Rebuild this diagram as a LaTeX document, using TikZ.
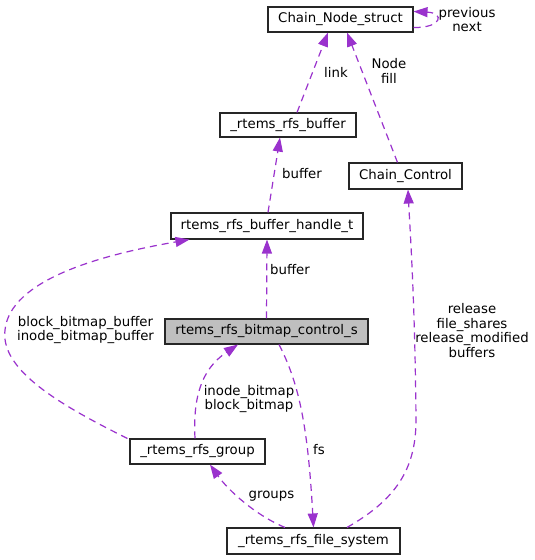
\documentclass[tikz,border=0pt]{standalone}
\usepackage{fontspec}
\setmainfont{DejaVu Sans}
\usetikzlibrary{arrows.meta,calc}
\definecolor{edgepurple}{RGB}{154,50,205}
\definecolor{boxgray}{RGB}{191,191,191}
\begin{document}
\begin{tikzpicture}[x=1pt,y=-1pt,
  box/.style={draw=black!85, line width=1.1pt, fill=white, inner sep=0pt, font=\fontsize{13.3}{15}\selectfont},
  lbl/.style={inner sep=0pt, align=center, font=\fontsize{13.3}{14.5}\selectfont},
  edge/.style={draw=edgepurple, line width=1.2pt, dash pattern=on 7pt off 5pt, -{Triangle[length=14pt,width=10pt,fill=edgepurple]}}
]
\path[use as bounding box, fill=white] (0,0) rectangle (535,560);

\node[box, minimum width=145pt, minimum height=25pt] (cns) at (340.5,19.5) {Chain\_Node\_struct};
\node[box, minimum width=136pt, minimum height=24pt] (rb) at (288,125) {\_rtems\_rfs\_buffer};
\node[box, minimum width=113pt, minimum height=26pt] (cc) at (405.5,176) {Chain\_Control};
\node[box, minimum width=192pt, minimum height=26pt] (bh) at (267,226) {rtems\_rfs\_buffer\_handle\_t};
\node[box, fill=boxgray, minimum width=203pt, minimum height=25pt] (bc) at (266.5,331.5) {rtems\_rfs\_bitmap\_control\_s};
\node[box, minimum width=135pt, minimum height=25pt] (grp) at (197.5,451.5) {\_rtems\_rfs\_group};
\node[box, minimum width=173pt, minimum height=26pt] (fsys) at (313.5,541) {\_rtems\_rfs\_file\_system};

% edges
\draw[edge] ([xshift=9pt]rb.north) -- ([xshift=-12.5pt]cns.south);
\draw[edge] ([xshift=-8pt]cc.north) -- ([xshift=6.5pt]cns.south);
\draw[edge] ([yshift=-8pt]cns.east) .. controls (442,28) and (445,13) .. ([yshift=8pt]cns.east);
\draw[edge] ([xshift=1pt]bh.north) -- ([xshift=-8pt]rb.south);
\draw[edge] (bc.north) -- (bh.south);
\draw[edge] ([xshift=-2pt]grp.north west) .. controls (60,405) and (0,370) .. (5,330)
   .. controls (10,280) and (100,255) .. ([xshift=19pt]bh.south west);
\draw[edge] ([xshift=-2.5pt]grp.north) .. controls (193,400) and (200,370) .. ([xshift=-28.5pt]bc.south);
\draw[edge] ([xshift=12.5pt]bc.south) .. controls (300,385) and (308,430) .. (fsys.north);
\draw[edge] ([xshift=-28.5pt]fsys.north) .. controls (255,515) and (228,490) .. ([xshift=12.5pt]grp.south);
\draw[edge] ([xshift=33.5pt]fsys.north) .. controls (395,500) and (416,470) .. (416,420)
   .. controls (415,300) and (410,230) .. ([xshift=2.5pt]cc.south);

% labels
\node[lbl] (l1) at (336,72) {link};
\node[lbl] (l2) at (389,71) {Node\\fill};
\node[lbl] (l3) at (467,19.5) {previous\\next};
\node[lbl] (l4) at (302,174) {buffer};
\node[lbl] (l5) at (290,270) {buffer};
\node[lbl] (l6) at (85.5,330) {block\_bitmap\_buffer\\inode\_bitmap\_buffer};
\node[lbl] (l7) at (249,399) {inode\_bitmap\\block\_bitmap};
\node[lbl] (l8) at (319,450) {fs};
\node[lbl] (l9) at (271.5,496) {groups};
\node[lbl] (l10) at (472,330.5) {release\\file\_shares\\release\_modified\\buffers};
\end{tikzpicture}
\end{document}
